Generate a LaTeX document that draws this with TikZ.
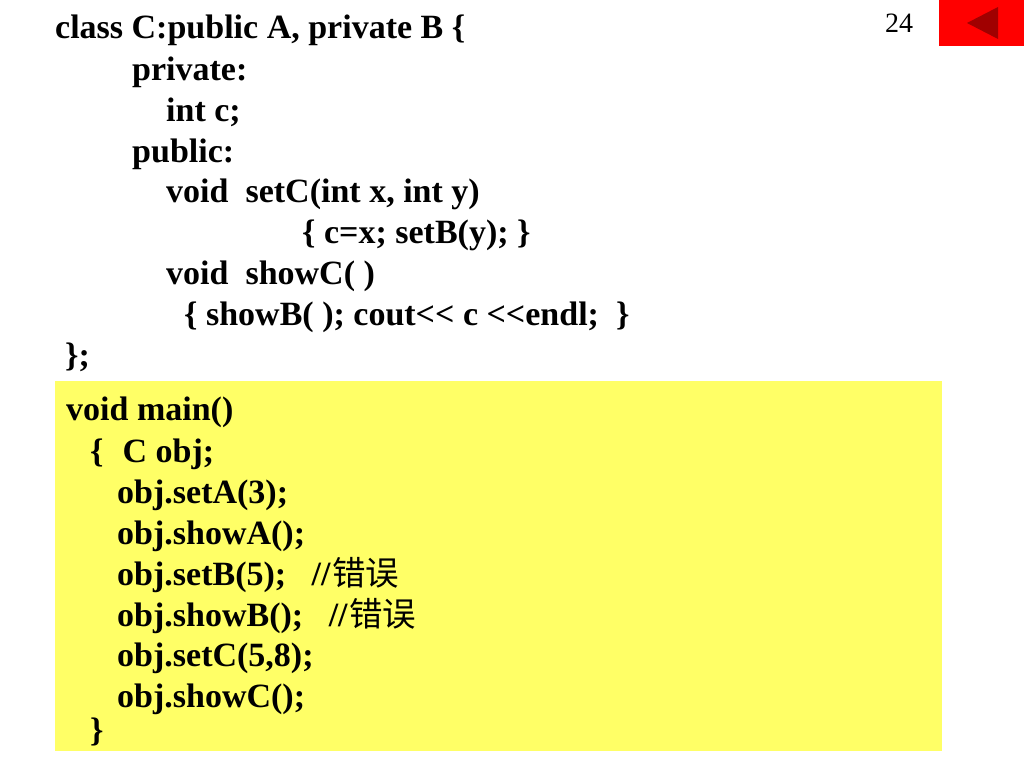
\documentclass[tikz,border=0pt]{standalone}
\usepackage{fontspec}
\setmainfont{Liberation Serif}
\newfontfamily\cjk{Noto Sans CJK SC}
\definecolor{panel}{HTML}{FFFF66}
\definecolor{tri}{HTML}{A00000}
\tikzset{codeline/.style={anchor=base west,inner sep=0pt,font=\fontsize{34pt}{38pt}\selectfont\bfseries,text=black}}
\newcommand{\cjkerr}{\hspace{1.5pt}{\mdseries\cjk\fontsize{33.5pt}{38pt}\selectfont 错误}}
\begin{document}
\begin{tikzpicture}[x=1pt,y=-1pt]
\useasboundingbox (0,0) rectangle (1024,768);
\fill[white] (0,0) rectangle (1024,768);
\fill[red] (939,0) rectangle (1024,46);
\fill[tri] (967,23) -- (998,7) -- (998,39) -- cycle;
\fill[panel] (55,381) rectangle (942,751);
\node[anchor=base west,inner sep=0pt,font=\fontsize{28pt}{32pt}\selectfont] (pg) at (885,33) {24};
\node[codeline] (a1) at (55,39) {class C:public A, private B \{};
\node[codeline] (a2) at (132,81) {private:};
\node[codeline] (a3) at (166,121) {int c;};
\node[codeline] (a4) at (132,162) {public:};
\node[codeline] (a5) at (166,202) {void\ \ setC(int x, int y)};
\node[codeline] (a6) at (302,243) {\{ c=x; setB(y); \}};
\node[codeline] (a7) at (166,284) {void\ \ showC( )};
\node[codeline] (a8) at (184,325) {\{ showB( ); cout<{}< c <{}<endl;\ \ \}};
\node[codeline] (a9) at (65,366) {\};};
\node[codeline] (b1) at (66,420) {void main()};
\node[codeline] (b2) at (90,462) {\{\ \ \hspace{2pt}C obj;};
\node[codeline] (b3) at (117,503) {obj.setA(3);};
\node[codeline] (b4) at (117,544) {obj.showA();};
\node[codeline] (b5) at (117,585) {obj.setB(5);\ \ \ //\cjkerr};
\node[codeline] (b6) at (117,626) {obj.showB();\ \ \ //\cjkerr};
\node[codeline] (b7) at (117,666) {obj.setC(5,8);};
\node[codeline] (b8) at (117,707) {obj.showC();};
\node[codeline] (b9) at (90,741) {\}};
\end{tikzpicture}
\end{document}
